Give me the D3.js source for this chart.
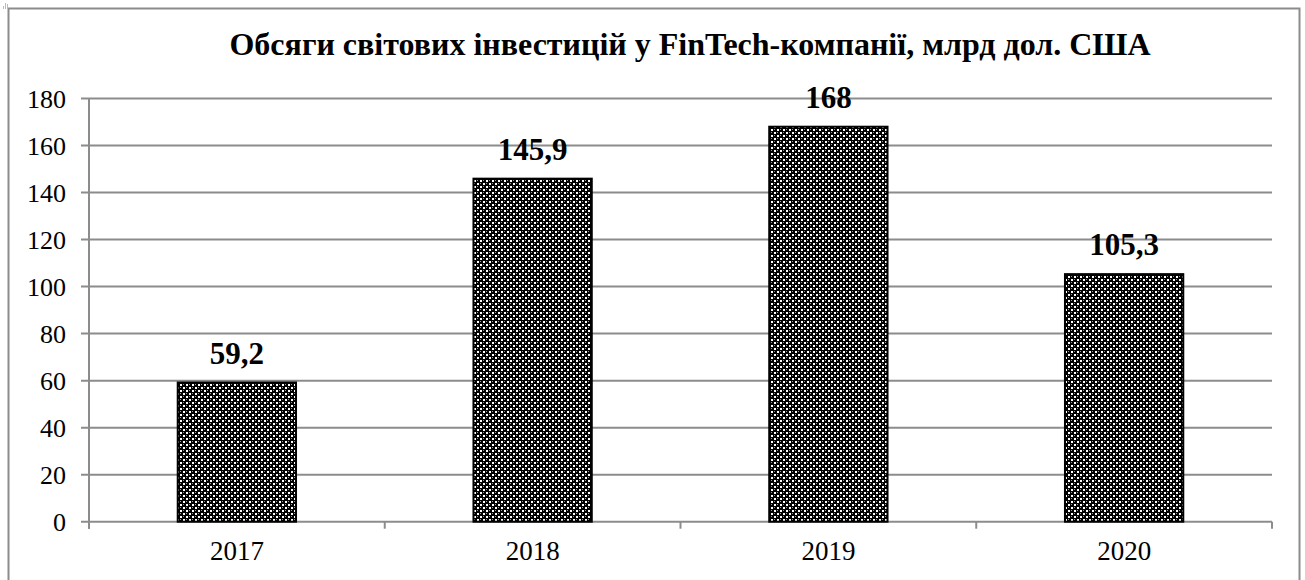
<!DOCTYPE html>
<meta charset="utf-8">
<script src="https://d3js.org/d3.v7.min.js"></script>
<style>
  body { margin: 0; background: #fff; }
  svg text { font-family: "Liberation Serif", "Times New Roman", serif; }
</style>
<body>
<svg id="chart" width="1305" height="580"></svg>
<script>
"use strict"

var years = ['2017', '2018', '2019', '2020']
var values = [59.2, 145.9, 168, 105.3]
var labels = ['59,2', '145,9', '168', '105,3']
var yTicks = [0, 20, 40, 60, 80, 100, 120, 140, 160, 180]
var title = 'Обсяги світових інвестицій у FinTech-компанії, млрд дол. США'

var svg = d3.select('#chart')
var plotL = 89, plotR = 1272, plotT = 98.5, plotB = 521.7

// pattern for bars
var defs = svg.append('defs')
var pat = defs.append('pattern')
    .attr('id', 'dots')
    .attr('patternUnits', 'userSpaceOnUse')
    .attr('width', 6).attr('height', 6)
pat.append('rect').attr('width', 6).attr('height', 6).attr('fill', '#000')
pat.append('rect').attr('x', 0).attr('y', 0).attr('width', 2).attr('height', 2).attr('fill', '#fff')
pat.append('rect').attr('x', 3).attr('y', 3).attr('width', 2).attr('height', 2).attr('fill', '#fff')
pat.append('rect').attr('x', 3).attr('y', 0).attr('width', 1).attr('height', 1).attr('fill', '#999')
pat.append('rect').attr('x', 0).attr('y', 3).attr('width', 1).attr('height', 1).attr('fill', '#999')

// outer frame
svg.append('path')
    .attr('d', 'M8.5,580 V8.5 H1299.5 V580')
    .attr('fill', 'none').attr('stroke', '#8c8c8c').attr('stroke-width', 2)

// tiny icon in corner
var icon = svg.append('g').attr('fill', '#bbb')
;[[3, 6, 1, 3], [5, 3, 1, 6], [7, 4, 1, 5]].forEach(function(r) {
  icon.append('rect').attr('x', r[0]).attr('y', r[1]).attr('width', r[2]).attr('height', r[3])
})

var x = d3.scaleBand().domain(years).range([plotL, plotR]).paddingInner(0).paddingOuter(0)
var y = d3.scaleLinear().domain([0, 180]).range([plotB, plotT])

// gridlines
svg.append('g').selectAll('line')
  .data(yTicks).enter().append('line')
    .attr('x1', plotL - 8).attr('x2', plotR)
    .attr('y1', function(d) { return y(d) }).attr('y2', function(d) { return y(d) })
    .attr('stroke', '#8c8c8c').attr('stroke-width', 2)

// y axis line
svg.append('line')
    .attr('x1', plotL).attr('x2', plotL).attr('y1', plotT).attr('y2', plotB + 7)
    .attr('stroke', '#8c8c8c').attr('stroke-width', 2)

// category ticks
var bounds = years.map(function(d) { return x(d) }).concat([plotR])
svg.append('g').selectAll('line')
  .data(bounds).enter().append('line')
    .attr('x1', function(d) { return d }).attr('x2', function(d) { return d })
    .attr('y1', plotB).attr('y2', plotB + 7)
    .attr('stroke', '#8c8c8c').attr('stroke-width', 2)

// y labels
svg.append('g').selectAll('text')
  .data(yTicks).enter().append('text')
    .attr('x', 66).attr('y', function(d) { return y(d) + 9 })
    .attr('text-anchor', 'end').attr('font-size', 26)
    .text(function(d) { return d })

// x labels
svg.append('g').selectAll('text')
  .data(years).enter().append('text')
    .attr('x', function(d) { return x(d) + x.bandwidth() / 2 })
    .attr('y', 560)
    .attr('text-anchor', 'middle').attr('font-size', 27)
    .text(function(d) { return d })

// bars
var bw = x.bandwidth() * 0.4
svg.append('g').selectAll('rect')
  .data(values).enter().append('rect')
    .attr('x', function(d, i) { return x(years[i]) + x.bandwidth() / 2 - bw / 2 })
    .attr('y', function(d) { return y(d) })
    .attr('width', bw)
    .attr('height', function(d) { return y(0) - y(d) })
    .attr('fill', 'url(#dots)')
    .attr('stroke', '#000').attr('stroke-width', 2)

// value labels
svg.append('g').selectAll('text')
  .data(values).enter().append('text')
    .attr('x', function(d, i) { return x(years[i]) + x.bandwidth() / 2 })
    .attr('y', function(d) { return y(d) - 19 })
    .attr('text-anchor', 'middle').attr('font-size', 31).attr('font-weight', 'bold')
    .text(function(d, i) { return labels[i] })

// title
svg.append('text')
    .attr('x', 690).attr('y', 55)
    .attr('text-anchor', 'middle').attr('font-size', 32).attr('font-weight', 'bold')
    .text(title)
</script>
</body>
